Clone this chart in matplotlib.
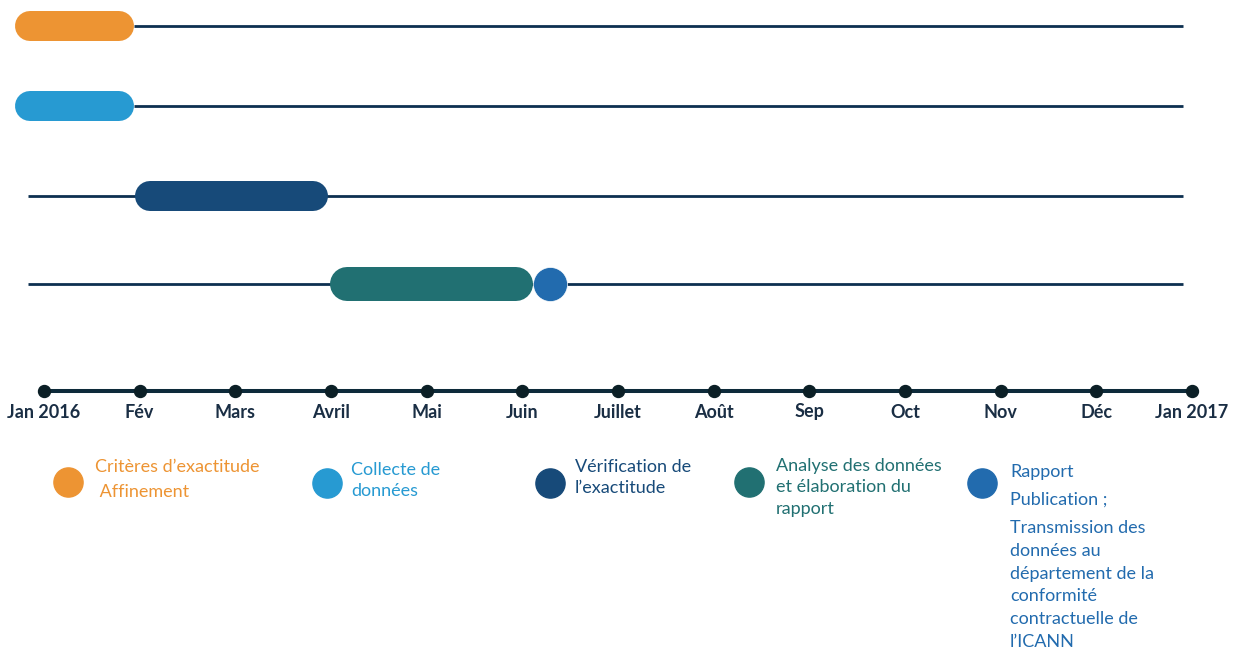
import matplotlib as mpl
import matplotlib.pyplot as plt
mpl.use('Agg')

# months from Jan 2016 (0) to Jan 2017 (12)
months = ["Jan 2016", "Fév", "Mars", "Avril", "Mai", "Juin", "Juillet",
          "Août", "Sep", "Oct", "Nov", "Déc", "Jan 2017"]

# tasks: start / end of each bar (months, outer edges)
task_start = [-0.30, -0.30, 0.95, 2.99]
task_end = [0.94, 0.94, 2.97, 5.11]
task_colors = ["#ED9433", "#279AD2", "#174A79", "#217072"]
milestone = 5.29
milestone_color = "#226BAE"

legend_labels = [
    ["Critères d’exactitude", " Affinement"],
    ["Collecte de\ndonnées"],
    ["Vérification de\nl’exactitude"],
    ["Analyse des données\net élaboration du\nrapport"],
    ["Rapport", "Publication ;",
     "Transmission des\ndonnées au\ndépartement de la\nconformité\ncontractuelle de\nl’ICANN"],
]
legend_colors = task_colors + [milestone_color]

W, H = 1234, 653
PX = 95.67  # pixels per month
X0 = 44     # pixel of Jan 2016

fig = plt.figure(figsize=(W / 100, H / 100), dpi=100)
ax = fig.add_axes([0, 0, 1, 1])
ax.set_xlim(-X0 / PX, (W - X0) / PX)
ax.set_ylim(H, 0)
ax.axis('off')

font = ['Lato', 'DejaVu Sans']
line_col = "#0d3050"
row_y = [26, 106, 196, 284]
bar_h = [30, 30, 30, 34]
line_right = 11.91

# row lines and pills
for i in range(4):
    left = task_end[i] if i < 2 else -0.17
    ax.plot([left, line_right], [row_y[i], row_y[i]], color=line_col,
            lw=2.0, zorder=1, solid_capstyle='butt')
    r = bar_h[i] / 2 / PX
    ax.plot([task_start[i] + r, task_end[i] - r], [row_y[i], row_y[i]],
            color=task_colors[i], lw=bar_h[i] * 0.72,
            solid_capstyle='round', zorder=2)
ax.plot([milestone], [row_y[3]], 'o', color=milestone_color, ms=24.5,
        mec='white', mew=0.5, zorder=3)

# timeline axis
axis_y = 391
ax.plot([0, 12], [axis_y, axis_y], color="#0d2a3a", lw=2.9, zorder=1)
ax.plot(range(13), [axis_y] * 13, 'o', color="#0b1f26", ms=8.6, zorder=2)
for m, lab in enumerate(months):
    ax.text(m, 412, lab, ha='center', va='center', fontsize=13,
            fontweight='bold', color="#1a2e44", family=font)

# legend
leg_x = [68, 327, 550, 749, 982]
leg_y = [482, 483, 483, 482, 483]
text_x = [95, 351, 575, 776, 1010]
text_y = [[459, 484], [462], [459], [458], [464, 492, 520]]
spacing = [1.42, 1.42, 1.42, 1.42, 1.52]
for i in range(5):
    cx = (leg_x[i] - X0) / PX
    ax.plot([cx], [leg_y[i]], 'o', color=legend_colors[i], ms=21)
    for lab, ty in zip(legend_labels[i], text_y[i]):
        ax.text((text_x[i] - X0) / PX, ty, lab, ha='left', va='top',
                fontsize=13, color=legend_colors[i], family=font,
                linespacing=spacing[i])

fig.savefig("out.png", dpi=100)
plt.close(fig)
